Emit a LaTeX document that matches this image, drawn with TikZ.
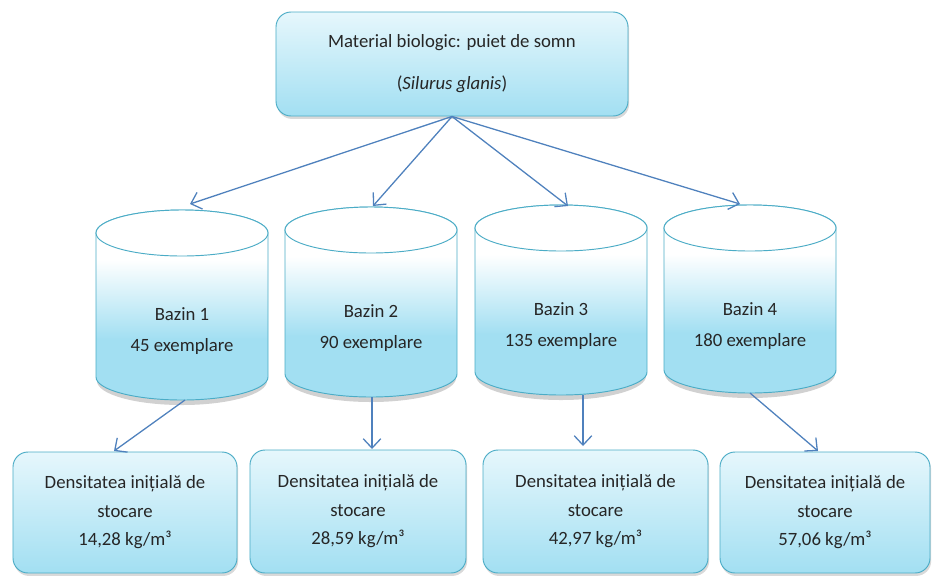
\documentclass[tikz,border=0pt]{standalone}
\usepackage{fontspec}
\setmainfont{Carlito}
\usetikzlibrary{arrows.meta,shadows}
\definecolor{edgec}{HTML}{4BACC6}
\definecolor{arrc}{HTML}{4F81BD}
\definecolor{fillbot}{HTML}{A2DFF2}
\definecolor{filltop}{HTML}{E6F7FC}
\pgfdeclareverticalshading{tankshade}{100bp}{color(0bp)=(fillbot); color(25bp)=(fillbot); color(41bp)=(fillbot); color(62bp)=(white); color(100bp)=(white)}
\newcommand\tankbody[3]{%
  \fill[black, opacity=0.18] ({#1-85},{#2+4}) -- ({#1-85},{#3+4}) arc[start angle=180,end angle=360,x radius=2.55cm,y radius=0.72cm] -- ({#1+85},{#2+4}) -- cycle;
  \path[shading=tankshade, draw=edgec, line width=0.8pt] ({#1-86},#2) -- ({#1-86},#3) arc[start angle=180,end angle=360,x radius=2.58cm,y radius=0.69cm] -- ({#1+86},#2) arc[start angle=0,end angle=180,x radius=2.58cm,y radius=0.69cm] -- cycle;
  \draw[edgec, line width=0.8pt, fill=white] (#1,#2) ellipse[x radius=2.58cm, y radius=0.69cm];
}
\begin{document}
\begin{tikzpicture}[x=0.03cm,y=-0.03cm,
  box/.style={draw=edgec, line width=0.8pt, rounded corners=0.45cm, top color=filltop, bottom color=fillbot,
    align=center, text=black!85, inner sep=0pt,
    drop shadow={shadow xshift=1pt, shadow yshift=-2.5pt, opacity=0.3}},
  conn/.style={draw=arrc, line width=1.1pt, -{Straight Barb[length=8pt,width=15pt]}},
  lbl/.style={font=\fontsize{16}{27}\selectfont, align=center, text=black!85}]
\useasboundingbox (0,0) rectangle (933,575);

% source box
\node[box, minimum width=10.56cm, minimum height=3.12cm, font=\fontsize{16}{24}\selectfont] (src) at (452,64)
  {Material biologic: puiet de somn\\[12pt](\textit{Silurus glanis})};

% tanks
\tankbody{182}{233}{377}
\tankbody{371}{230}{374}
\tankbody{561}{228}{372}
\tankbody{750}{228}{370}
\node[lbl] (t1) at (182,331) {Bazin 1\\45 exemplare};
\node[lbl] (t2) at (371,328) {Bazin 2\\90 exemplare};
\node[lbl] (t3) at (561,326) {Bazin 3\\135 exemplare};
\node[lbl] (t4) at (750,326) {Bazin 4\\180 exemplare};

% density boxes
\node[box, minimum width=6.72cm, minimum height=3.63cm, font=\fontsize{16}{24.3}\selectfont] (d1) at (125,512.5)
  {Densitatea inițială de\\stocare\\14,28 kg/m³};
\node[box, minimum width=6.48cm, minimum height=3.69cm, font=\fontsize{16}{24.3}\selectfont] (d2) at (358,511.5)
  {Densitatea inițială de\\stocare\\28,59 kg/m³};
\node[box, minimum width=6.75cm, minimum height=3.69cm, font=\fontsize{16}{24.3}\selectfont] (d3) at (595.5,511.5)
  {Densitatea inițială de\\stocare\\42,97 kg/m³};
\node[box, minimum width=6.3cm, minimum height=3.63cm, font=\fontsize{16}{24.3}\selectfont] (d4) at (825,512.5)
  {Densitatea inițială de\\stocare\\57,06 kg/m³};

% connector end points
\coordinate (in1) at (190,204);
\coordinate (in2) at (373,206);
\coordinate (in3) at (568,206);
\coordinate (in4) at (740,204);
\coordinate (out1) at (185,400);
\coordinate (out2) at (372,397);
\coordinate (out3) at (583,395);
\coordinate (out4) at (750,393);
\coordinate (tip1) at (114,451);
\coordinate (tip2) at (372,449);
\coordinate (tip3) at (583,446);
\coordinate (tip4) at (818,451);

\draw[conn] (src.south) -- (in1);
\draw[conn] (src.south) -- (in2);
\draw[conn] (src.south) -- (in3);
\draw[conn] (src.south) -- (in4);
\draw[conn] (out1) -- (tip1);
\draw[conn] (out2) -- (tip2);
\draw[conn] (out3) -- (tip3);
\draw[conn] (out4) -- (tip4);
\end{tikzpicture}
\end{document}
